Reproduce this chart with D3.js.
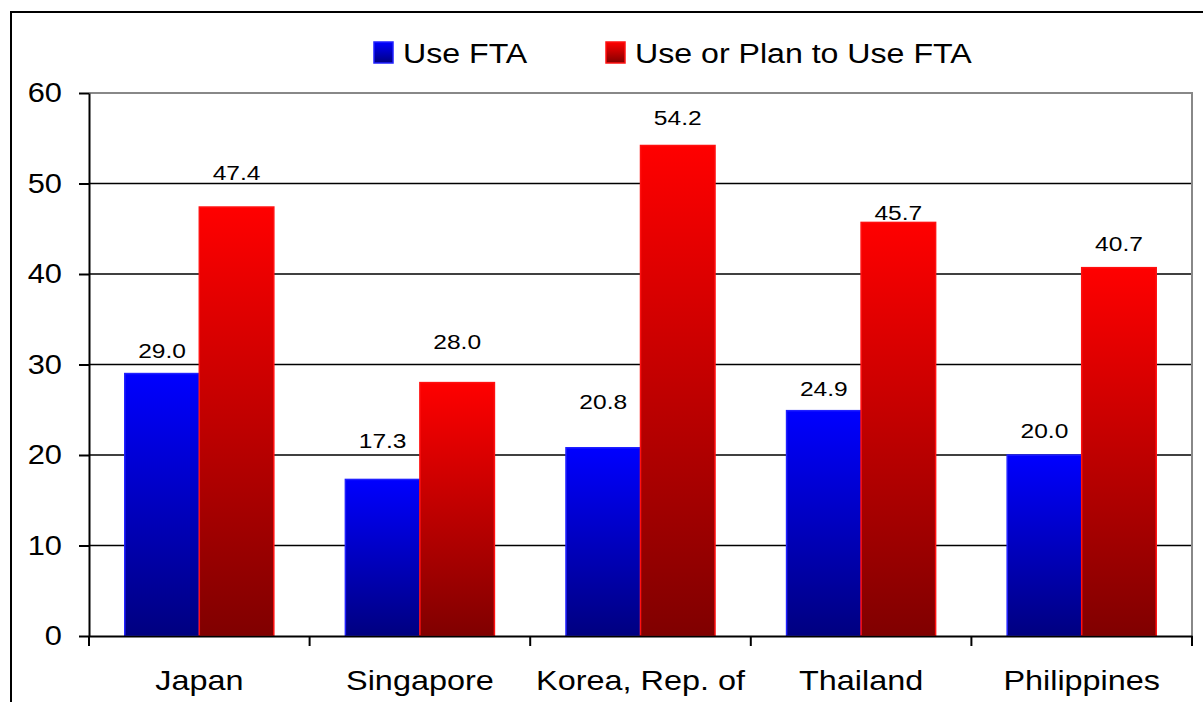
<!DOCTYPE html>
<html>
<head>
<meta charset="utf-8">
<script src="https://cdn.jsdelivr.net/npm/d3@7"></script>
<style>
    body { margin: 0; background: #fff; }
    svg { display: block; font-family: 'Liberation Sans', Arial, sans-serif; }
</style>
</head>
<body>
<svg id="graph"></svg>
<script>
// 数据
const countries = ['Japan', 'Singapore', 'Korea, Rep. of', 'Thailand', 'Philippines'];
const seriesNames = ['Use FTA', 'Use or Plan to Use FTA'];
const useFta = [29.0, 17.3, 20.8, 24.9, 20.0];
const usePlanFta = [47.4, 28.0, 54.2, 45.7, 40.7];
const yTicks = [0, 10, 20, 30, 40, 50, 60];

// 标签离柱顶的距离（原图里是手动拖过的）
const labelGap = [[16, 27], [31, 34], [39, 20], [15, 2], [17, 17]];

const width = 1203, height = 702;
const margin = { top: 93, right: 11, bottom: 66, left: 89 };
const innerWidth = width - margin.left - margin.right;
const innerHeight = height - margin.top - margin.bottom;

// 原图文字横向被拉宽了
const stretch = 1.2;

const svg = d3.select('#graph')
    .attr('width', width)
    .attr('height', height);

// 渐变
const defs = svg.append('defs');
const grads = [['gradBlue', '#0000ff', '#000080'], ['gradRed', '#ff0000', '#800000']];
grads.forEach(g => {
    const lg = defs.append('linearGradient')
        .attr('id', g[0])
        .attr('x1', 0).attr('y1', 0).attr('x2', 0).attr('y2', 1);
    lg.append('stop').attr('offset', '0%').attr('stop-color', g[1]);
    lg.append('stop').attr('offset', '100%').attr('stop-color', g[2]);
});
const fills = ['url(#gradBlue)', 'url(#gradRed)'];
const strokes = ['#2020ff', '#ff1010'];

// 外框
svg.append('rect')
    .attr('x', 11).attr('y', 12)
    .attr('width', 1210).attr('height', 710)
    .attr('fill', 'none')
    .attr('stroke', '#000')
    .attr('stroke-width', 2);

const xScale = d3.scaleBand()
    .domain(countries)
    .range([margin.left, margin.left + innerWidth])
    .padding(0);

const xInner = d3.scaleBand()
    .domain(seriesNames)
    .range([0, xScale.bandwidth()])
    .paddingInner(0)
    .paddingOuter(0.48);

const yScale = d3.scaleLinear()
    .domain([0, 60])
    .range([margin.top + innerHeight, margin.top]);

// 网格线
svg.append('g')
    .selectAll('line')
    .data(yTicks.filter(t => t > 0 && t < 60))
    .enter().append('line')
    .attr('x1', margin.left).attr('x2', margin.left + innerWidth)
    .attr('y1', d => yScale(d)).attr('y2', d => yScale(d))
    .attr('stroke', '#000')
    .attr('stroke-width', 1.5);

// 绘图区边框（上、右为灰色）
svg.append('path')
    .attr('d', `M${margin.left},${yScale(60)}H${margin.left + innerWidth}V${yScale(0)}`)
    .attr('fill', 'none')
    .attr('stroke', '#888')
    .attr('stroke-width', 2);

// 柱子
const rows = countries.map((c, i) => ({ country: c, values: [useFta[i], usePlanFta[i]], idx: i }));

const group = svg.selectAll('.group').data(rows).enter().append('g')
    .attr('class', 'group')
    .attr('transform', d => `translate(${xScale(d.country)},0)`);

group.selectAll('rect')
    .data(d => d.values.map((v, s) => ({ v: v, s: s })))
    .enter().append('rect')
    .attr('x', d => xInner(seriesNames[d.s]))
    .attr('width', xInner.bandwidth())
    .attr('y', d => yScale(d.v))
    .attr('height', d => yScale(0) - yScale(d.v))
    .attr('fill', d => fills[d.s])
    .attr('stroke', d => strokes[d.s])
    .attr('stroke-width', 1.5);

group.selectAll('.value_label')
    .data(d => d.values.map((v, s) => ({ v: v, s: s, i: d.idx })))
    .enter().append('text')
    .attr('class', 'value_label')
    .attr('transform', d => `translate(${xInner(seriesNames[d.s]) + xInner.bandwidth() / 2},${yScale(d.v) - labelGap[d.i][d.s]}) scale(1.17,1)`)
    .attr('text-anchor', 'middle')
    .style('font-size', '21px')
    .text(d => d.v.toFixed(1));

// y 轴
const yAxis = d3.axisLeft(yScale)
    .tickValues(yTicks)
    .tickSize(10)
    .tickPadding(17)
    .tickSizeOuter(0);

const yg = svg.append('g')
    .attr('transform', `translate(${margin.left},0)`)
    .call(yAxis);
yg.select('.domain').attr('stroke', '#000').attr('stroke-width', 2);
yg.selectAll('.tick line').attr('stroke', '#000').attr('stroke-width', 2);
yg.selectAll('.tick text')
    .attr('fill', '#000')
    .attr('x', -27 / 1.1)
    .attr('transform', 'scale(1.1,1)')
    .style('font-size', '28px')
    .style('font-family', "'Liberation Sans', Arial, sans-serif");

// x 轴
const xAxis = d3.axisBottom(xScale)
    .tickSize(0)
    .tickPadding(35)
    .tickSizeOuter(0);

const xg = svg.append('g')
    .attr('transform', `translate(0,${yScale(0)})`)
    .call(xAxis);
xg.select('.domain').attr('stroke', '#000').attr('stroke-width', 2);
xg.selectAll('.tick text')
    .attr('fill', '#000')
    .attr('transform', `scale(${stretch},1)`)
    .style('font-size', '27px')
    .style('font-family', "'Liberation Sans', Arial, sans-serif");

// 分类边界刻度
xg.selectAll('.sep')
    .data(countries.map(c => xScale(c)).concat([margin.left + innerWidth]))
    .enter().append('line')
    .attr('class', 'sep')
    .attr('x1', d => d).attr('x2', d => d)
    .attr('y1', 0).attr('y2', 10)
    .attr('stroke', '#000')
    .attr('stroke-width', 2);

// 图例
const legendX = [374, 606];
const legend = svg.selectAll('.legend').data(seriesNames).enter().append('g')
    .attr('class', 'legend')
    .attr('transform', (d, i) => `translate(${legendX[i]},42)`);

legend.append('rect')
    .attr('width', 19).attr('height', 21)
    .attr('fill', (d, i) => fills[i])
    .attr('stroke', (d, i) => strokes[i])
    .attr('stroke-width', 1.5);

legend.append('text')
    .attr('transform', 'translate(29,21) scale(1.19,1)')
    .style('font-size', '27px')
    .text(d => d);
</script>
</body>
</html>
